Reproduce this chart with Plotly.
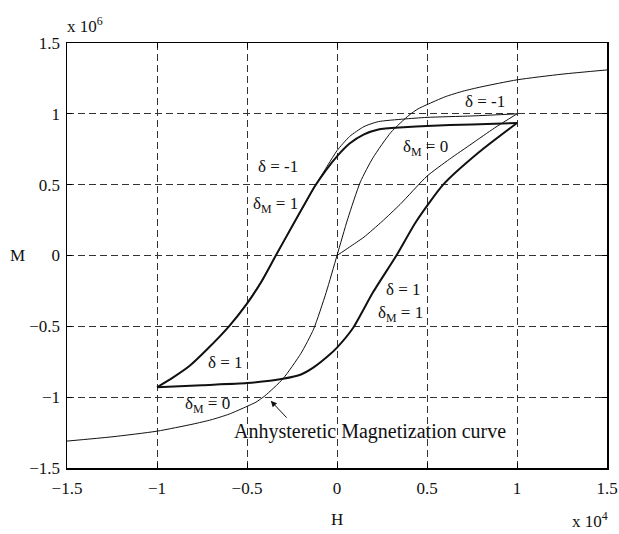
import plotly.graph_objects as go

# Anhysteretic magnetization curve (H in 1e4, M in 1e6)
H_anh = [-1.5, -1.25, -1.0, -0.8, -0.7, -0.6, -0.5, -0.45, -0.4, -0.3, -0.2, -0.13, -0.06, 0.0,
         0.06, 0.13, 0.2, 0.3, 0.4, 0.45, 0.5, 0.6, 0.7, 0.8, 1.0, 1.25, 1.5]
M_anh = [-1.31, -1.28, -1.24, -1.19, -1.16, -1.12, -1.065, -1.035, -0.99, -0.87, -0.69, -0.52, -0.26, 0.0,
         0.26, 0.52, 0.69, 0.87, 0.99, 1.035, 1.065, 1.12, 1.16, 1.19, 1.24, 1.28, 1.31]

# Initial magnetization curve (thin, from origin)
H_init = [0.0, 0.07, 0.15, 0.25, 0.35, 0.5, 0.625, 0.75, 0.875, 1.0]
M_init = [0.0, 0.06, 0.13, 0.24, 0.36, 0.56, 0.68, 0.79, 0.90, 1.0]

# Descending branch, delta = -1, delta_M = 0 (thin)
H_dn0 = [1.0, 0.75, 0.5, 0.37, 0.23, 0.15, 0.07, 0.0, -0.05, -0.11, -0.18, -0.24, -0.33, -0.42,
         -0.5, -0.6, -0.72, -0.82, -0.91, -1.0]
M_dn0 = [1.0, 0.985, 0.975, 0.963, 0.945, 0.91, 0.84, 0.74, 0.64, 0.515, 0.36, 0.225, 0.02, -0.18,
         -0.335, -0.50, -0.66, -0.78, -0.86, -0.93]

# Descending branch, delta = -1, delta_M = 1 (thick)
H_dn1 = [1.0, 0.75, 0.5, 0.37, 0.23, 0.15, 0.07, 0.0, -0.06, -0.125, -0.19, -0.25, -0.34, -0.42,
         -0.5, -0.6, -0.72, -0.82, -0.91, -1.0]
M_dn1 = [0.935, 0.925, 0.915, 0.905, 0.89, 0.855, 0.79, 0.70, 0.605, 0.485, 0.34, 0.205, 0.0, -0.185,
         -0.34, -0.50, -0.66, -0.78, -0.86, -0.93]

# Ascending branch, delta = 1 (thick)
H_up = [-1.0, -0.75, -0.5, -0.3, -0.2, -0.13, -0.05, 0.0, 0.09, 0.2, 0.33, 0.44, 0.59, 0.79, 1.0]
M_up = [-0.93, -0.915, -0.90, -0.87, -0.84, -0.79, -0.71, -0.65, -0.51, -0.26, 0.0, 0.24, 0.50, 0.73, 0.935]

x_ticks = [-1.5, -1, -0.5, 0, 0.5, 1, 1.5]
x_tick_text = ["\u22121.5", "\u22121", "\u22120.5", "0", "0.5", "1", "1.5"]
y_ticks = [-1.5, -1, -0.5, 0, 0.5, 1, 1.5]
y_tick_text = ["\u22121.5", "\u22121", "\u22120.5", "0", "0.5", "1", "1.5"]

FONT = "Liberation Serif, Times New Roman, serif"
INK = "#111111"

fig = go.Figure()

def add_curve(h, m, w):
    fig.add_trace(go.Scatter(x=h, y=m, mode="lines",
                             line=dict(color=INK, width=w, shape="spline", smoothing=0.6),
                             showlegend=False, hoverinfo="skip"))

add_curve(H_anh, M_anh, 1.0)
add_curve(H_init, M_init, 1.0)
add_curve(H_dn0, M_dn0, 1.0)
add_curve(H_dn1, M_dn1, 2.0)
add_curve(H_up, M_up, 2.0)

ann = []
def label(x, y, text, xanchor="center", size=17):
    ann.append(dict(x=x, y=y, xref="x", yref="y", text=text, showarrow=False,
                    xanchor=xanchor, yanchor="middle", font=dict(family=FONT, size=size, color=INK)))

label(-0.33, 0.63, "\u03b4 = -1")
label(-0.344, 0.36, "\u03b4<sub>M</sub> = 1")
label(0.82, 1.085, "\u03b4 = -1")
label(0.49, 0.76, "\u03b4<sub>M</sub> = 0")
label(0.367, -0.24, "\u03b4 = 1")
label(0.35, -0.41, "\u03b4<sub>M</sub> = 1")
label(-0.617, -0.753, "\u03b4 = 1")
label(-0.72, -1.055, "\u03b4<sub>M</sub> = 0")
label(-0.583, -1.245, "Anhysteretic Magnetization curve", xanchor="left", size=20)

ann.append(dict(x=-0.368, y=-1.026, xref="x", yref="y", ax=-0.272, ay=-1.155,
                axref="x", ayref="y", text="", showarrow=True, arrowhead=2,
                arrowsize=1.2, arrowwidth=1, arrowcolor=INK))

# axis titles and exponent labels
ann.append(dict(x=0.5, y=-0.122, xref="paper", yref="paper", text="H", showarrow=False,
                xanchor="center", yanchor="middle", font=dict(family=FONT, size=17, color=INK)))
ann.append(dict(x=-0.091, y=0.5, xref="paper", yref="paper", text="M", showarrow=False,
                xanchor="center", yanchor="middle", font=dict(family=FONT, size=17, color=INK)))
ann.append(dict(x=-0.004, y=1.042, xref="paper", yref="paper", text="x 10<sup>6</sup>",
                showarrow=False, xanchor="left", yanchor="middle",
                font=dict(family=FONT, size=17, color=INK)))
ann.append(dict(x=1.0056, y=-0.122, xref="paper", yref="paper", text="x 10<sup>4</sup>",
                showarrow=False, xanchor="right", yanchor="middle",
                font=dict(family=FONT, size=17, color=INK)))

axis_common = dict(showline=True, linecolor="black", linewidth=1.5, mirror="ticks",
                   ticks="inside", ticklen=5, tickcolor="black", tickwidth=1,
                   showgrid=True, gridcolor="#333333", gridwidth=1, griddash="7px,4px",
                   zeroline=False, automargin=False, ticklabeloverflow="allow",
                   tickfont=dict(family=FONT, size=17, color=INK))

fig.update_xaxes(range=[-1.5, 1.5], tickvals=x_ticks, ticktext=x_tick_text,
                 ticklabelstandoff=4, **axis_common)
fig.update_yaxes(range=[-1.5, 1.5], tickvals=y_ticks, ticktext=y_tick_text,
                 ticklabelstandoff=2, **axis_common)

# plot area targets x 67-607, y 43-468 in the 619x534 window
fig.update_layout(width=619, height=534, margin=dict(l=67, r=12, t=43, b=66),
                  paper_bgcolor="white", plot_bgcolor="white", annotations=ann,
                  font=dict(family=FONT, size=17, color=INK))

fig.write_html("out.html", config={"displayModeBar": False, "staticPlot": True},
               post_script="document.body.style.margin='0';document.body.style.overflow='hidden';")
